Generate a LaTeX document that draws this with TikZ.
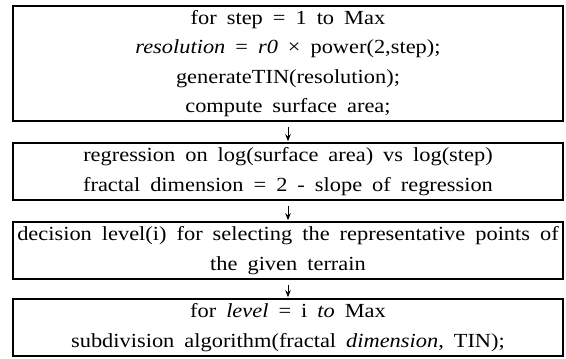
\documentclass[tikz,border=0pt]{standalone}
\usepackage{fontspec}
\setmainfont[FakeStretch=1.12]{Liberation Serif}
\usetikzlibrary{arrows.meta}
\newcommand\wsp{\spaceskip=0.5em\relax}
\begin{document}
\begin{tikzpicture}[x=1pt,y=-1pt,
  box/.style={draw, line width=1.6pt, minimum width=550pt, inner sep=0pt,
    align=center, text width=548pt,
    font=\fontsize{20}{29.5}\selectfont},
  flow/.style={-{Stealth[length=7pt,width=5.5pt]}, line width=1pt, shorten <=5pt, shorten >=1pt}]
\useasboundingbox (0,0) rectangle (566,359);
\node[box, minimum height=115pt] (b1) at (288,63.5)
  {\wsp for step = 1 to Max\\ \textit{resolution} = \textit{r0} × power(2,step);\\ generateTIN(resolution);\\ compute surface area;};
\node[box, minimum height=57pt] (b2) at (288,171.5)
  {\wsp regression on log(surface area) vs log(step)\\ fractal dimension = 2 - slope of regression};
\node[box, minimum height=57pt] (b3) at (288,250.5)
  {\wsp decision level(i) for selecting the representative points of\\ the given terrain};
\node[box, minimum height=57pt] (b4) at (288,327.5)
  {\wsp for \textit{level} = i \textit{to} Max\\ subdivision algorithm(fractal \textit{dimension}, TIN);};
\draw[flow] (b1) -- (b2);
\draw[flow] (b2) -- (b3);
\draw[flow] (b3) -- (b4);
\end{tikzpicture}
\end{document}
